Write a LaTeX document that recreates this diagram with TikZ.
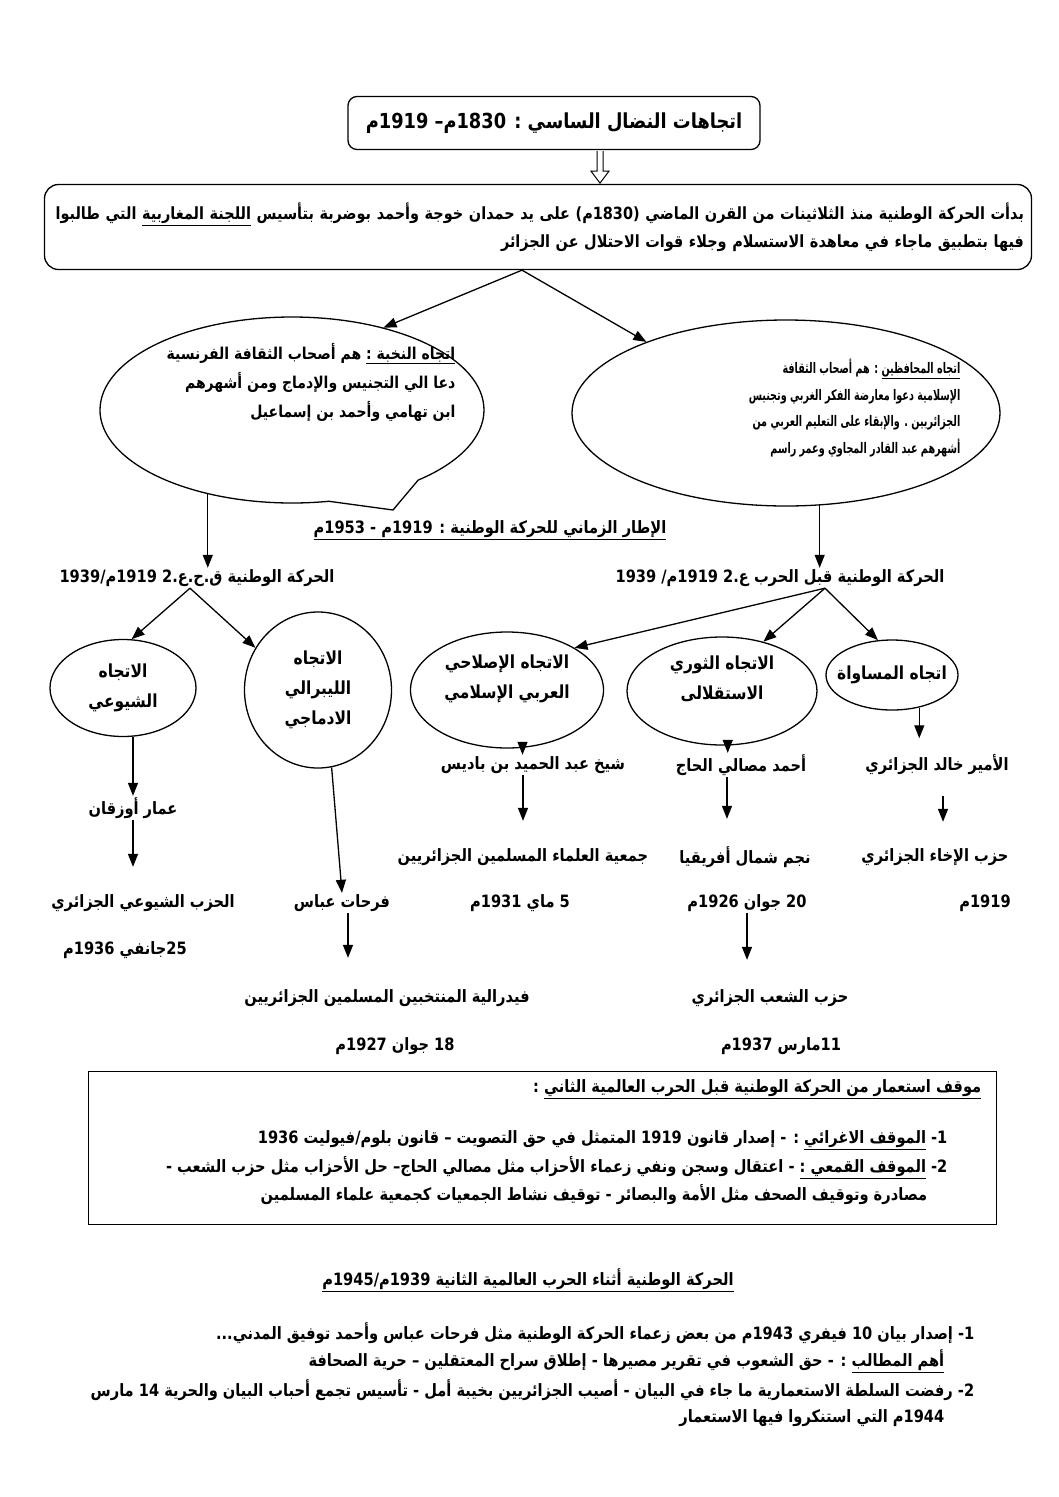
\documentclass[tikz,border=0pt]{standalone}
\usepackage{fontspec}
\usetikzlibrary{arrows.meta,calc,positioning,shapes.geometric,shapes.callouts}
\newfontfamily\arabicfont[Script=Arabic,FakeStretch=0.86]{DejaVu Sans}
\newfontfamily\arabicnarrow[Script=Arabic,FakeStretch=0.66]{DejaVu Sans}
\TeXXeTstate=1
\newcommand\AR[1]{\beginR #1\endR}

\tikzset{
  lbl/.style={font=\arabicfont\bfseries\fontsize{17}{28}\selectfont, inner sep=1pt},
  titlebox/.style={draw, rounded corners=9pt, minimum width=412pt, minimum height=53pt,
    font=\arabicfont\bfseries\fontsize{20.7}{24}\selectfont},
  introbox/.style={draw, rounded corners=14pt, minimum width=987pt, minimum height=85pt,
    text width=972pt, inner xsep=7.5pt, align=right, inner sep=1pt,
    font=\arabicfont\bfseries\fontsize{16.8}{28}\selectfont},
  oval/.style={draw, ellipse, inner sep=0pt, align=center, font=\arabicfont\bfseries\fontsize{18}{30}\selectfont},
  bubtext/.style={lbl, anchor=east, align=right},
  rline/.style={lbl, anchor=east},
}

\begin{document}
\begin{tikzpicture}[x=1pt, y=-1pt, line width=1.3pt, >={Triangle[length=13pt,width=10pt]}]
\useasboundingbox (0,0) rectangle (1058,1497);

% title and introduction
\node[titlebox] (title) at (554,123) {\AR{اتجاهات النضال الساسي : 1830م– 1919م}};
\node[introbox] (intro) at (538,227) {\AR{بدأت الحركة الوطنية منذ الثلاثينات من القرن الماضي (1830م) على يد حمدان خوجة وأحمد بوضربة بتأسيس \underline{\AR{اللجنة المغاربية}}  التي طالبوا}\\
  \AR{فيها بتطبيق ماجاء في معاهدة الاستسلام وجلاء قوات الاحتلال عن الجزائر}};
\coordinate (h) at ($(title.south)+(46,1)$);
\draw[line width=1pt] (h) ++(-3,0) -- ++(0,20) -- ++(-6,0) -- ++(9,12) -- ++(9,-12) -- ++(-6,0) -- ++(0,-20);

% two early tendencies
\node[ellipse callout, draw, minimum width=384pt, minimum height=186pt, inner sep=0pt,
  callout absolute pointer={(393,510)}, callout pointer arc=30] (nakhba) at (292,410) {};
\node[bubtext, font=\arabicfont\bfseries\fontsize{16.3}{29}\selectfont] (nakhbatext) at (457,382)
  {\AR{\underline{\AR{اتجاه النخبة :}} هم أصحاب الثقافة الفرنسية}\\
   \AR{دعا الي التجنيس والإدماج  ومن أشهرهم}\\
   \AR{ابن تهامي وأحمد بن إسماعيل}};
\node[draw, ellipse, minimum width=428pt, minimum height=186pt, inner sep=0pt] (muhafidh) at (786,413) {};
\node[bubtext, font=\arabicnarrow\bfseries\fontsize{14.6}{26.5}\selectfont] (muhafidhtext) at (962,408)
  {\AR{\underline{\AR{اتجاه المحافظين}} : هم أصحاب الثقافة}\\
   \AR{الإسلامية دعوا معارضة الفكر الغربي وتجنيس}\\
   \AR{الجزائريين . والإبقاء على التعليم العربي   من}\\
   \AR{أشهرهم عبد القادر المجاوي وعمر راسم}};
\coordinate (split) at ($(intro.south)+(-16,0)$);
\draw[->] (split) -- (nakhba.42);
\draw[->] (split) -- (muhafidh.153);

% time frame
\node[lbl] (itar) at (490,530) {\underline{\AR{الإطار الزماني للحركة الوطنية : 1919م  -  1953م}}};
\node[lbl] (qablL) at (197,578) {\AR{الحركة الوطنية ق.ح.ع.2 1919م/1939}};
\node[lbl] (qablR) at (780,578) {\AR{الحركة الوطنية قبل الحرب ع.2 1919م/ 1939}};
\draw[->] (nakhba.225) -- (nakhba.225 |- qablL.north);
\draw[->] (muhafidh.290) -- (muhafidh.290 |- qablR.north);

% tendencies before WWII
\node[oval, minimum width=146pt, minimum height=97pt] (shuyui) at (123,688) {\AR{الاتجاه}\\\AR{الشيوعي}};
\node[oval, minimum width=147pt, minimum height=156pt] (libirali) at (318,690) {\AR{الاتجاه}\\\AR{الليبرالي}\\\AR{الادماجي}};
\node[oval, minimum width=193pt, minimum height=116pt, text depth=26pt] (islahi) at (507,690) {\AR{الاتجاه الإصلاحي}\\\AR{العربي الإسلامي}};
\node[oval, minimum width=190pt, minimum height=108pt, text depth=26pt] (thawri) at (722,691) {\AR{الاتجاه الثوري}\\\AR{الاستقلالى}};
\node[oval, minimum width=132pt, minimum height=70pt, inner xsep=-9pt] (musawat) at (892,675) {\AR{اتجاه المساواة}};

\coordinate (lsplit) at ($(qablL.south)+(-7,0)$);
\draw[->] (lsplit) -- (shuyui.80);
\draw[->] (lsplit) -- (libirali.146);
\coordinate (rsplit) at ($(qablR.south)+(45,0)$);
\draw[->] (rsplit) -- (islahi.32);
\draw[->] (rsplit) -- (thawri.50);
\draw[->] (rsplit) -- (musawat.112);

% leaders, organisations, dates
\node[lbl] (badis) at (533,765) {\AR{شيخ عبد الحميد بن باديس}};
\node[lbl] (masali) at (741,765) {\AR{أحمد مصالي الحاج}};
\node[lbl] (amir) at (937,765) {\AR{الأمير خالد الجزائري}};
\node[lbl] (ouzegane) at (133,808) {\AR{عمار أوزقان}};
\node[lbl] (jamiya) at (523,857) {\AR{جمعية العلماء المسلمين الجزائريين}};
\node[lbl] (najm) at (745,857) {\AR{نجم شمال أفريقيا}};
\node[lbl] (ikha) at (935,857) {\AR{حزب الإخاء الجزائري}};
\node[lbl] (hizbsh) at (143,903) {\AR{الحزب الشيوعي الجزائري}};
\node[lbl] (abbas) at (342,903) {\AR{فرحات عباس}};
\node[lbl] (may1931) at (520,903) {\AR{5 ماي 1931م}};
\node[lbl] (jun1926) at (747,903) {\AR{20 جوان 1926م}};
\node[lbl] (y1919) at (985,903) {\AR{1919م}};
\node[lbl] (jan1936) at (125,950) {\AR{25جانفي 1936م}};
\node[lbl] (fed) at (387,998) {\AR{فيدرالية المنتخبين المسلمين الجزائريين}};
\node[lbl] (shaab) at (770,998) {\AR{حزب الشعب الجزائري}};
\node[lbl] (jun1927) at (395,1046) {\AR{18 جوان 1927م}};
\node[lbl] (mar1937) at (781,1046) {\AR{11مارس 1937م}};

\draw[->] (islahi.285) -- (islahi.285 |- badis.north);
\draw[->] (thawri.276) -- (thawri.276 |- masali.north);
\draw[->, shorten >=15pt] (musawat.310) -- (musawat.310 |- amir.north);
\draw[->] (ouzegane.north |- shuyui.south) -- (ouzegane.north);
\draw[->] (libirali.280) -- (abbas.north);
\draw[->, shorten >=26pt] (jamiya.north |- badis.south) -- (jamiya.north);
\draw[->, shorten >=26pt] ($(masali.south)+(-14,0)$) coordinate (m1) -- (m1 |- najm.north);
\draw[->, shorten <=19pt, shorten >=25pt] ($(amir.south)+(6,0)$) coordinate (a1) -- (a1 |- ikha.north);
\draw[->, shorten >=26pt] (ouzegane.south) -- (ouzegane.south |- hizbsh.north);
\draw[->, shorten >=30pt] ($(abbas.south)+(6,0)$) coordinate (f1) -- (f1 |- fed.north);
\draw[->, shorten >=28pt] (jun1926.south) -- (jun1926.south |- shaab.north);

% colonial position box
\node[draw, line width=1pt, minimum width=908pt, minimum height=153pt, inner sep=0pt] (mawqif) at (542,1148) {};
\node[rline] (mq0) at (983,1089) {\AR{\underline{\AR{موقف استعمار من الحركة الوطنية قبل الحرب العالمية الثاني}} :}};
\node[rline] (mq1) at (949,1140) {\AR{1-  \underline{\AR{الموقف الاغرائي}} : - إصدار قانون  1919 المتمثل في حق التصويت – قانون بلوم/فيوليت 1936}};
\node[rline] (mq2) at (949,1168) {\AR{2-  \underline{\AR{الموقف القمعي :}} - اعتقال وسجن ونفي زعماء الأحزاب  مثل مصالي الحاج–  حل الأحزاب  مثل حزب الشعب -}};
\node[rline] (mq3) at (929,1195) {\AR{مصادرة وتوقيف الصحف مثل الأمة والبصائر  - توقيف نشاط الجمعيات   كجمعية علماء المسلمين}};

% during WWII
\node[lbl] (harb) at (528,1280) {\underline{\AR{الحركة الوطنية أثناء الحرب العالمية الثانية 1939م/1945م}}};
\node[rline] (b1) at (976,1333) {\AR{1-  إصدار بيان 10 فيفري 1943م من بعض زعماء الحركة الوطنية مثل فرحات عباس وأحمد توفيق المدني...}};
\node[rline] (b2) at (946,1361) {\AR{\underline{\AR{أهم المطالب}} : - حق الشعوب في تقرير مصيرها  - إطلاق سراح المعتقلين – حرية الصحافة}};
\node[rline] (b3) at (976,1390) {\AR{2-  رفضت السلطة الاستعمارية ما جاء في البيان  - أصيب الجزائريين بخيبة أمل  - تأسيس تجمع أحباب البيان والحرية 14 مارس}};
\node[rline] (b4) at (946,1418) {\AR{1944م التي استنكروا  فيها الاستعمار}};
\end{tikzpicture}
\end{document}
